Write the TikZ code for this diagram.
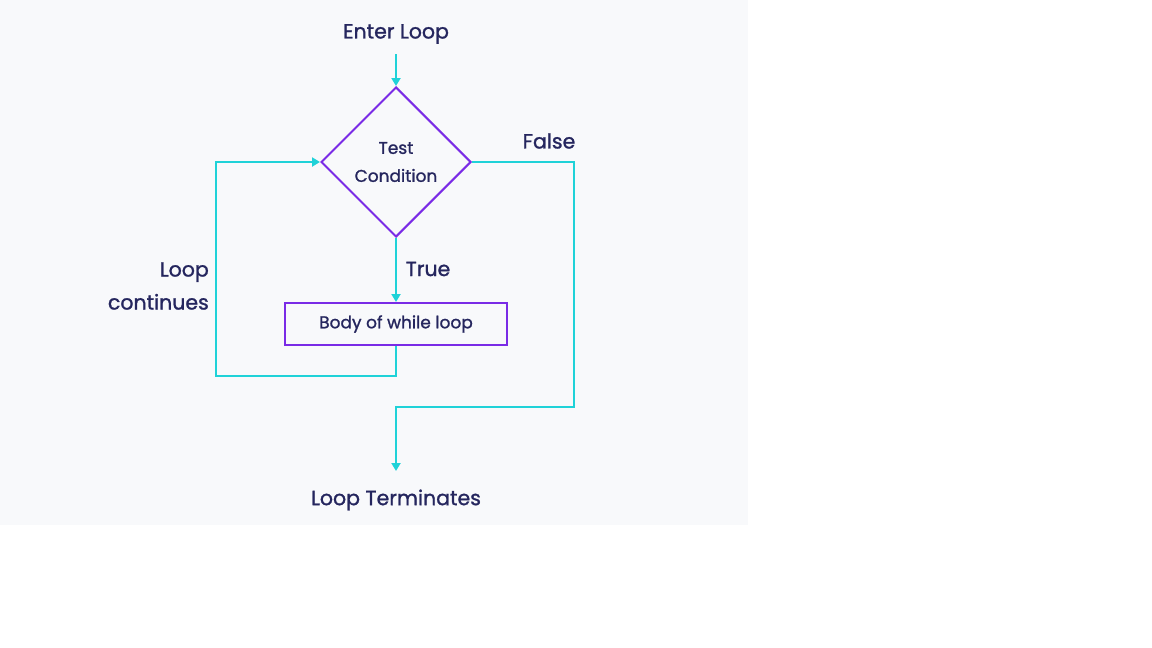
\documentclass[tikz,border=0pt]{standalone}
\usepackage{fontspec}
\setmainfont{Poppins}[FakeBold=1.2]
\usetikzlibrary{arrows.meta,shapes.geometric}
\definecolor{linecyan}{HTML}{1FD2D8}
\definecolor{shapepurple}{HTML}{7A2BE6}
\definecolor{textnavy}{HTML}{25265E}
\definecolor{bggray}{HTML}{F8F9FB}
\tikzstyle{decision}=[diamond,draw=shapepurple,line width=2pt,minimum width=150pt,minimum height=150pt,inner sep=0pt,text=textnavy,font=\fontsize{17}{28}\selectfont,align=center]
\tikzstyle{block}=[rectangle,draw=shapepurple,line width=2pt,minimum width=222pt,minimum height=42pt,text=textnavy,font=\fontsize{17}{20}\selectfont]
\tikzstyle{flowtext}=[text=textnavy,font=\fontsize{20.5}{33}\selectfont,inner sep=0pt]
\tikzstyle{flow}=[draw=linecyan,line width=2pt,-{Triangle[length=8pt,width=9pt]}]

\begin{document}
\begin{tikzpicture}[x=1pt,y=-1pt]
    \useasboundingbox (0,0) rectangle (1152,648);
    \fill[bggray] (0,0) rectangle (748,525);
    % The nodes of the loop
    \node[flowtext] (enter) at (396,34) {Enter Loop};
    \node[decision] (test) at (396,162) {Test\\Condition};
    \node[block] (body) at (396,324) {Body of while loop};
    \node[flowtext] (exit) at (396,500) {Loop Terminates};
    % Labels beside the flow lines
    \node[flowtext] (truelabel) at (428,269) {True};
    \node[flowtext] (falselabel) at (549,141) {False};
    \node[flowtext,align=right,anchor=east] (backlabel) at (209,286) {Loop\\continues};
    % Corners of the flow lines
    \coordinate (start) at (396,54);
    \coordinate (backcorner) at (216,376);
    \coordinate (falsecorner) at (574,407);
    \coordinate (stop) at (396,471);
    % Connect them
    \path[flow] (start) -- (test.north);
    \path[flow] (test.south) -- (body.north);
    \path[flow] (body.south) |- (backcorner) |- (test.west);
    \path[flow] (test.east) -| (falsecorner) -| (stop);
\end{tikzpicture}
\end{document}
